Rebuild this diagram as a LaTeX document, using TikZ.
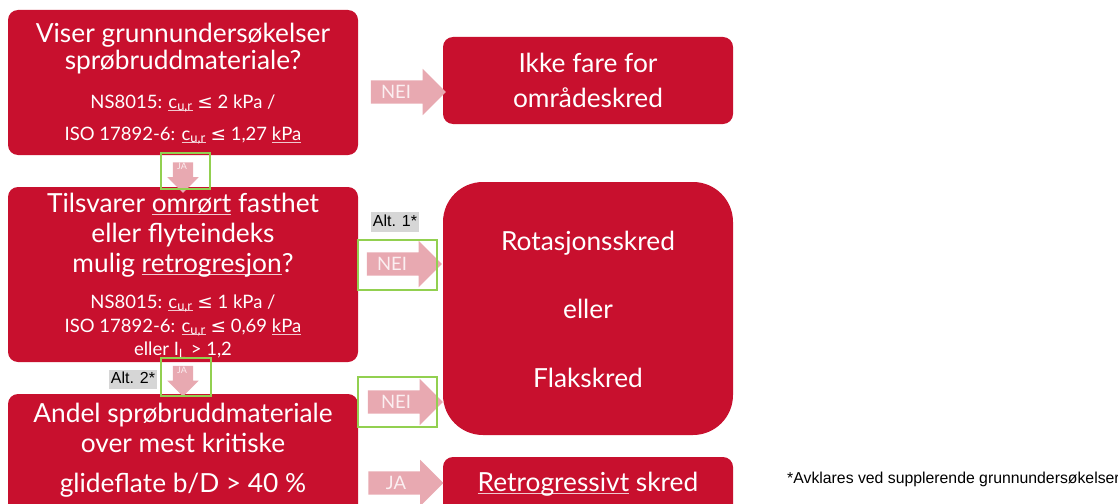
\documentclass[tikz,border=0pt]{standalone}
\usepackage{fontspec}
\setmainfont{Lato}
\newfontfamily\arialf{Liberation Sans}
\newfontfamily\symf{DejaVu Sans}
\usetikzlibrary{shapes.arrows}
\definecolor{boxred}{HTML}{C8102E}
\definecolor{arrowpink}{HTML}{E8A9B1}
\definecolor{greenframe}{HTML}{92D050}
\definecolor{altgray}{HTML}{D6D6D6}
\definecolor{ulc}{HTML}{F0C8CE}
\definecolor{arrowtext}{HTML}{FBEFF1}
\newcommand\ulx[1]{\setbox0\hbox{#1}\rlap{\color{ulc}\rule[-2.5pt]{\wd0}{0.7pt}}\box0\relax}
\newcommand\leqx{{\symf ≤}}
\newcommand\cur{c\textsubscript{u,r}}
\begin{document}
\begin{tikzpicture}[x=1pt,y=-1pt,
  redbox/.style={fill=boxred, rounded corners=10pt, inner sep=0pt},
  bigtxt/.style={text=white, anchor=base, inner sep=0pt, font=\fontsize{26.3}{30}\selectfont},
  smalltxt/.style={text=white, anchor=base, inner sep=0pt, font=\fontsize{18.5}{21}\selectfont},
  harrow/.style={single arrow, fill=arrowpink, inner sep=11.5pt, single arrow head extend=11.5pt, minimum height=75pt},
  darrow/.style={single arrow, fill=arrowpink, inner sep=10pt, single arrow head extend=5.5pt, shape border rotate=270},
  arrowlbl/.style={text=arrowtext, inner sep=0pt, font=\fontsize{18.5}{18.5}\selectfont},
  tinylbl/.style={text=arrowtext, inner sep=0pt, font=\fontsize{9}{9}\selectfont},
  gframe/.style={draw=greenframe, line width=2.5pt, inner sep=0pt},
  altlbl/.style={fill=altgray, inner xsep=1.5pt, inner ysep=2.5pt, text height=11.5pt, text depth=3pt, font=\arialf\fontsize{16}{16}\selectfont}
]
\clip (0,0) rectangle (1118,503);
\fill[white] (0,0) rectangle (1118,503);

% boxes
\node[redbox, minimum width=350pt, minimum height=145pt] (b1) at (183,82.5) {};
\node[redbox, minimum width=350pt, minimum height=175pt] (b2) at (183,274.5) {};
\node[redbox, minimum width=350pt, minimum height=121pt] (b3) at (183,454.5) {};
\node[redbox, minimum width=290pt, minimum height=87pt] (r1) at (588,80.5) {};
\node[redbox, rounded corners=40pt, minimum width=290pt, minimum height=253pt] (r2) at (588,308.5) {};
\node[redbox, minimum width=290pt, minimum height=58pt] (r3) at (588,486) {};

% box 1 text
\node[bigtxt] (t11) at (183,42) {Viser grunnundersøkelser};
\node[bigtxt] (t12) at (183,70) {sprøbruddmateriale?};
\node[smalltxt] (t13) at (183,108) {NS8015: \ulx{\cur} \leqx{} 2 kPa /};
\node[smalltxt] (t14) at (183,140) {ISO 17892-6: \ulx{\cur} \leqx{} 1,27 \ulx{kPa}};

% box 2 text
\node[bigtxt] (t21) at (183,212) {Tilsvarer \ulx{omrørt} fasthet};
\node[bigtxt] (t22) at (183,242) {eller flyteindeks};
\node[bigtxt] (t23) at (183,272) {mulig \ulx{retrogresjon}?};
\node[smalltxt] (t24) at (183,308) {NS8015: \ulx{\cur} \leqx{} 1 kPa /};
\node[smalltxt] (t25) at (183,332) {ISO 17892-6: \ulx{\cur} \leqx{} 0,69 \ulx{kPa}};
\node[smalltxt] (t26) at (183,355) {eller I\textsubscript{L} > 1,2};

% box 3 text
\node[bigtxt] (t31) at (183,422) {Andel sprøbruddmateriale};
\node[bigtxt] (t32) at (183,452) {over mest kritiske};
\node[bigtxt] (t33) at (183,492) {glideflate b/D > 40 \%};

% right boxes text
\node[bigtxt] (u11) at (588,73) {Ikke fare for};
\node[bigtxt] (u12) at (588,107) {områdeskred};
\node[bigtxt] (u21) at (588,250) {Rotasjonsskred};
\node[bigtxt] (u22) at (588,318) {eller};
\node[bigtxt] (u23) at (588,387) {Flakskred};
\node[bigtxt] (u31) at (588,491) {\ulx{Retrogressivt} skred};

% horizontal arrows
\node[harrow] (a1) at (402.5,92) {};
\node[arrowlbl] at (396,92) {NEI};
\node[harrow] (a2) at (398.5,264) {};
\node[arrowlbl] at (392,264) {NEI};
\node[harrow] (a3) at (399.5,402) {};
\node[arrowlbl] at (396,402) {NEI};
\node[harrow] (a4) at (400,483) {};
\node[arrowlbl] at (396,483) {JA};

% down arrows
\node[darrow, minimum height=23pt] (d1) at (183,172.5) {};
\node[tinylbl] at (182,166) {JA};
\node[darrow, minimum height=22pt] (d2) at (183,376) {};
\node[tinylbl] at (182,370) {JA};

% green frames
\node[gframe, minimum width=49pt, minimum height=36pt] (g1) at (185.5,171) {};
\node[gframe, minimum width=79pt, minimum height=50pt] (g2) at (397.5,265) {};
\node[gframe, minimum width=50pt, minimum height=38pt] (g3) at (186,377) {};
\node[gframe, minimum width=79pt, minimum height=50pt] (g4) at (397.5,402) {};

% alt labels
\node[altlbl] (alt1) at (395,222) {Alt. 1*};
\node[altlbl] (alt2) at (133,379.5) {Alt. 2*};

% footnote
\node[anchor=base west, inner sep=0pt, font=\arialf\fontsize{15.8}{16}\selectfont] (fn) at (787,483) {*Avklares ved supplerende grunnundersøkelser};
\end{tikzpicture}
\end{document}
